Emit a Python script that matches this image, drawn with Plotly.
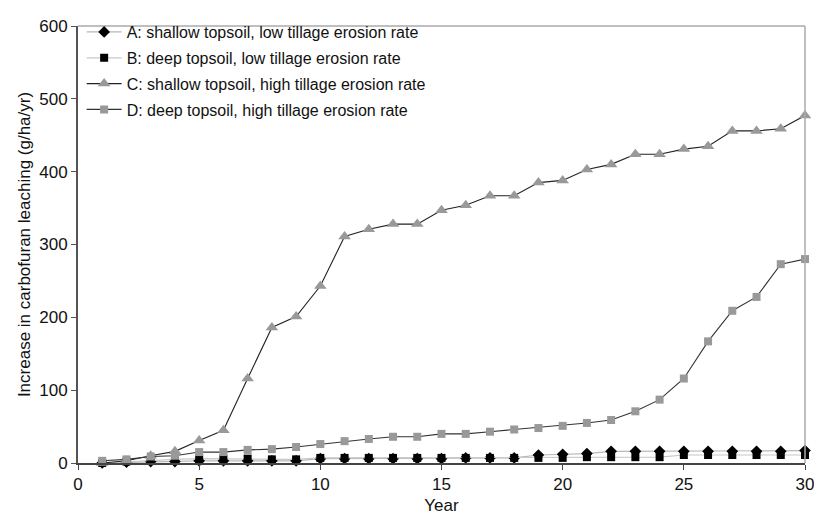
import plotly.graph_objects as go

years = list(range(1, 31))
series_a = [0, 1, 2, 2, 3, 3, 3, 3, 3, 6, 6, 6, 6, 6, 6, 7, 7, 7, 11, 12, 13, 16, 16, 16, 16, 16, 16, 16, 16, 17]
series_b = [0, 2, 4, 5, 6, 6, 6, 5, 5, 7, 7, 7, 7, 7, 7, 7, 7, 7, 7, 7, 8, 8, 8, 8, 11, 11, 11, 11, 11, 11]
series_c = [0, 3, 10, 16, 31, 45, 116, 186, 201, 243, 311, 321, 328, 328, 347, 354, 367, 367, 385, 388,
            403, 410, 424, 424, 431, 435, 456, 456, 459, 477]
series_d = [3, 5, 9, 10, 15, 15, 18, 19, 22, 26, 30, 33, 36, 36, 40, 40, 43, 46, 48, 51,
            55, 59, 71, 87, 116, 167, 209, 228, 273, 280]

names = ["A: shallow topsoil, low tillage erosion rate",
         "B: deep topsoil, low tillage erosion rate",
         "C: shallow topsoil, high tillage erosion rate",
         "D: deep topsoil, high tillage erosion rate"]

FONT = "Liberation Sans, Arial, sans-serif"

fig = go.Figure()
fig.add_trace(go.Scatter(x=years, y=series_a, name=names[0], mode="lines+markers", legendgroup="a",
                         line=dict(color="#b8b8b8", width=1.2),
                         marker=dict(symbol="diamond", color="black", size=9), cliponaxis=False))
fig.add_trace(go.Scatter(x=years, y=series_b, name=names[1], mode="lines+markers", legendgroup="b",
                         line=dict(color="#c8c8c8", width=1.2),
                         marker=dict(symbol="square", color="black", size=8), cliponaxis=False))
fig.add_trace(go.Scatter(x=years, y=series_c, name=names[2], mode="lines+markers", legendgroup="c",
                         line=dict(color="#222222", width=1.1),
                         marker=dict(symbol="triangle-up", color="#999999", size=11), cliponaxis=False))
fig.add_trace(go.Scatter(x=years, y=series_d, name=names[3], mode="lines+markers", legendgroup="d",
                         line=dict(color="#333333", width=1.1),
                         marker=dict(symbol="square", color="#999999", size=8), cliponaxis=False))

fig.update_layout(
    width=814, height=507,
    margin=dict(l=70, r=17, t=7, b=52),
    paper_bgcolor="white", plot_bgcolor="white",
    font=dict(family=FONT, size=17, color="#111111"),
    showlegend=True,
    legend=dict(x=0.005, y=1.025, xanchor="left", yanchor="top", bgcolor="rgba(0,0,0,0)",
                font=dict(family=FONT, size=16, color="#111111"),
                traceorder="grouped", tracegroupgap=2, itemwidth=35),
    xaxis=dict(range=[0, 30], tickvals=[0, 5, 10, 15, 20, 25, 30], showgrid=False, zeroline=False,
               showline=True, linecolor="#444444", linewidth=2, ticks="outside", ticklen=5,
               tickcolor="#444444", tickfont=dict(size=17), automargin=False,
               title=dict(text="Year", font=dict(size=17), standoff=6)),
    yaxis=dict(range=[0, 600], tickvals=[0, 100, 200, 300, 400, 500, 600], showgrid=False, zeroline=False,
               showline=True, linecolor="#555555", linewidth=2, ticks="outside", ticklen=5,
               tickcolor="#555555", tickfont=dict(size=17), automargin=False,
               title=dict(text="Increase in carbofuran leaching (g/ha/yr)", font=dict(size=17), standoff=4)),
    shapes=[
        dict(type="line", xref="paper", yref="paper", x0=0, x1=1, y0=1, y1=1,
             line=dict(color="#aaaaaa", width=1.5)),
        dict(type="line", xref="paper", yref="paper", x0=1, x1=1, y0=0, y1=1,
             line=dict(color="#aaaaaa", width=1.5)),
    ],
)

fig.write_html("out.html")
